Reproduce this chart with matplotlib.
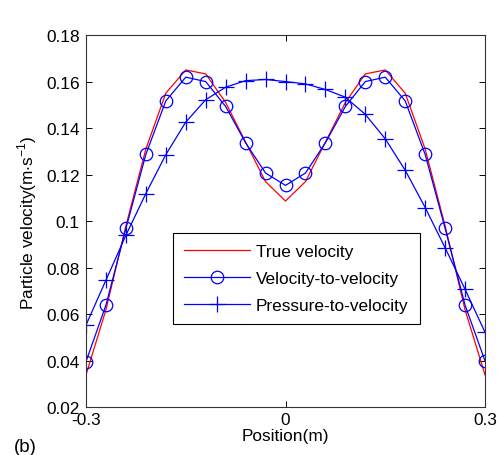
import matplotlib
matplotlib.use('Agg')
import matplotlib.pyplot as plt
import numpy as np

plt.rcParams['font.family'] = ['Liberation Sans', 'DejaVu Sans']
plt.rcParams['mathtext.fontset'] = 'custom'
plt.rcParams['mathtext.rm'] = 'Liberation Sans'

# positions (m)
position = np.round(np.arange(-0.3, 0.3001, 0.03), 2)

# true velocity
true_vel = [0.034, 0.062, 0.098, 0.131, 0.155, 0.165, 0.1633, 0.151, 0.134, 0.117, 0.1087,
            0.117, 0.134, 0.151, 0.1633, 0.165, 0.155, 0.131, 0.098, 0.062, 0.034]

# velocity-to-velocity
vel_to_vel = [0.0397, 0.064, 0.0969, 0.1287, 0.1517, 0.1619, 0.160, 0.1493, 0.1337, 0.1207, 0.1154,
              0.1207, 0.1337, 0.1493, 0.160, 0.1619, 0.1517, 0.1287, 0.097, 0.064, 0.040]

# pressure-to-velocity
pres_to_vel = [0.0554, 0.0747, 0.094, 0.1119, 0.1286, 0.1426, 0.1522, 0.1576, 0.1604, 0.1609, 0.160,
               0.159, 0.1566, 0.1533, 0.1459, 0.1354, 0.1219, 0.1059, 0.0886, 0.0708, 0.0523]

fs = 12.4

fig = plt.figure(figsize=(4.98, 4.56), dpi=100)
ax = fig.add_axes([0.1727, 0.1042, 0.8012, 0.8168])

ax.plot(position, true_vel, color='r', lw=0.9, label='True velocity')
ax.plot(position, vel_to_vel, color='b', lw=0.9, marker='o', ms=9, mfc='none',
        mec='b', mew=0.9, label='Velocity-to-velocity')
ax.plot(position, pres_to_vel, color='b', lw=0.9, marker='+', ms=11, mew=0.9,
        label='Pressure-to-velocity')

ax.set_xlim(-0.3, 0.3)
ax.set_ylim(0.02, 0.18)
ax.set_xticks([-0.3, 0, 0.3])
ax.set_xticklabels(['-0.3', '0', '0.3'])
yt = [0.02, 0.04, 0.06, 0.08, 0.1, 0.12, 0.14, 0.16, 0.18]
ax.set_yticks(yt)
ax.set_yticklabels(['0.02', '0.04', '0.06', '0.08', '0.1', '0.12', '0.14', '0.16', '0.18'])
ax.tick_params(direction='in', top=True, right=True, length=4, width=0.7,
               labelsize=fs)
ax.tick_params(axis='y', pad=4.5)
ax.tick_params(axis='x', pad=3)
for s in ax.spines.values():
    s.set_linewidth(0.8)
    s.set_color('#333333')

ax.set_xlabel('Position(m)', fontsize=fs, labelpad=1)
ax.set_ylabel('Particle velocity(m$\\cdot$s$^{-1}$)', fontsize=fs, labelpad=5)

leg = ax.legend(loc='upper left', bbox_to_anchor=(0.217, 0.468), borderaxespad=0,
                fontsize=fs, handlelength=3.85, fancybox=False, edgecolor='black',
                framealpha=1, borderpad=0.65, labelspacing=0.68, handletextpad=0.35)
leg.get_frame().set_linewidth(0.8)

fig.text(0.028, 0.018, '(b)', fontsize=fs + 1, va='center')

fig.savefig('out.png', dpi=100)
